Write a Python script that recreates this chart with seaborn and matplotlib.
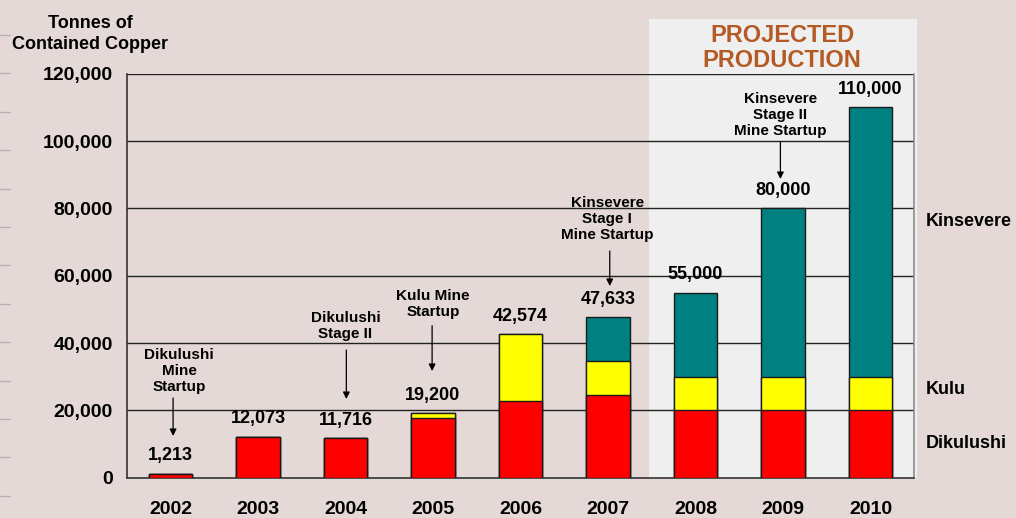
import matplotlib
matplotlib.use("Agg")
import matplotlib.pyplot as plt
import matplotlib.transforms as mtransforms
from matplotlib.patches import Rectangle
from matplotlib.lines import Line2D
import pandas as pd
import seaborn as sns

# ---------------------------------------------------------------------------
# Data (tonnes of contained copper)
# ---------------------------------------------------------------------------
years = ["2002", "2003", "2004", "2005", "2006", "2007", "2008", "2009", "2010"]
dikulushi = [1213, 12073, 11716, 17700, 22800, 24600, 20000, 20000, 20000]
kulu = [0, 0, 0, 1500, 19774, 10000, 10000, 10000, 10000]
kinsevere = [0, 0, 0, 0, 0, 13033, 25000, 50000, 80000]
y_ticks = [0, 20000, 40000, 60000, 80000, 100000, 120000]

df = pd.DataFrame({"year": years, "Dikulushi": dikulushi, "Kulu": kulu, "Kinsevere": kinsevere})
df["lower"] = df["Dikulushi"]
df["middle"] = df["Dikulushi"] + df["Kulu"]
df["total"] = df["middle"] + df["Kinsevere"]

BG = "#e4d9d7"
BOX = "#efefef"
RED = "#ff0000"
YELLOW = "#ffff00"
TEAL = "#008080"
BROWN = "#b35a25"

sns.set_style("white")
plt.rcParams["font.family"] = ["Liberation Sans", "DejaVu Sans"]
plt.rcParams["font.weight"] = "bold"
plt.rcParams["text.color"] = "black"
plt.rcParams["xtick.labelcolor"] = "black"
plt.rcParams["ytick.labelcolor"] = "black"

fig = plt.figure(figsize=(10.16, 5.18), dpi=100, facecolor=BG)

# slide decoration on the left edge
for k in range(13):
    yy = 1 - (35 + 38.4 * k) / 518
    fig.add_artist(Line2D([0, 10 / 1016], [yy, yy], color="#b9b1af", lw=1, transform=fig.transFigure))

# projected production panel
fig.patches.append(
    Rectangle((649 / 1016, 40 / 518), 268 / 1016, 459 / 518, transform=fig.transFigure,
              facecolor=BOX, edgecolor="none", zorder=-1)
)
fig.text(782 / 1016, 1 - 48 / 518, "PROJECTED\nPRODUCTION", ha="center", va="center",
         fontsize=17, color=BROWN, fontweight="bold", linespacing=1.15)

ax = fig.add_axes([0.1247, 0.0778, 0.7752, 0.7799])
ax.set_facecolor("none")

# stacked bars: draw cumulative totals from top layer down
for col, color in [("total", TEAL), ("middle", YELLOW), ("lower", RED)]:
    sns.barplot(data=df, x="year", y=col, color=color, saturation=1, width=0.5,
                edgecolor="#1a1a1a", linewidth=1, ax=ax, zorder=3)

ax.set_ylim(0, 120000)
ax.set_xlim(-0.5, len(years) - 0.5)
ax.set_yticks(y_ticks)
ax.set_yticklabels([f"{v:,}" for v in y_ticks], fontsize=14, fontweight="bold")
ax.set_xticks(range(len(years)))
ax.set_xticklabels(years, fontsize=14, fontweight="bold")
ax.set_xticks([i - 0.5 for i in range(len(years) + 1)], minor=True)
ax.tick_params(axis="x", which="major", length=0, pad=17)
ax.tick_params(axis="x", which="minor", length=5, width=1, color="#333333", direction="out")
ax.tick_params(axis="y", length=6, width=1, color="#333333", pad=4, direction="out")
ax.set_xlabel("")
ax.set_ylabel("")

for v in y_ticks[1:]:
    ax.axhline(v, color="#222222", lw=1, zorder=1)

for s in ["left", "bottom"]:
    ax.spines[s].set_color("#333333")
    ax.spines[s].set_linewidth(1.2)
ax.spines["top"].set_visible(False)
ax.spines["right"].set_color("#8c8c8c")
ax.spines["right"].set_linewidth(1.2)

# totals above bars
for i, t in enumerate(df["total"]):
    ax.annotate(f"{t:,}", xy=(i, t), xytext=(0, 13), textcoords="offset points",
                ha="center", va="center", fontsize=13, fontweight="bold", zorder=5)

# milestone notes with arrows
notes = [
    ("Dikulushi\nMine\nStartup", (0.1, 31780), (0.03, 23670), (0.03, 12390)),
    ("Dikulushi\nStage II", (2.0, 45150), (2.01, 37930), (2.01, 23380)),
    ("Kulu Mine\nStartup", (3.0, 51540), (2.99, 45150), (2.99, 31690)),
    ("Kinsevere\nStage I\nMine Startup", (4.99, 76780), (5.02, 67340), (5.02, 56940)),
    ("Kinsevere\nStage II\nMine Startup", (6.97, 107730), (6.97, 99800), (6.97, 88720)),
]
for txt, pos, start, tip in notes:
    ax.text(pos[0], pos[1], txt, ha="center", va="center", fontsize=11,
            fontweight="bold", linespacing=1.2, zorder=5)
    ax.annotate("", xy=tip, xytext=start,
                arrowprops=dict(arrowstyle="-|>", color="black", lw=0.9,
                                mutation_scale=10, shrinkA=0, shrinkB=0), zorder=5)

# series labels to the right of the plot
trans = mtransforms.blended_transform_factory(ax.transAxes, ax.transData)
for name, yv in [("Kinsevere", 76000), ("Kulu", 26300), ("Dikulushi", 10200)]:
    ax.text(1.015, yv, name, transform=trans, ha="left", va="center",
            fontsize=13, fontweight="bold", clip_on=False)

fig.text(90 / 1016, 1 - 34 / 518, "Tonnes of\nContained Copper", ha="center", va="center",
         fontsize=13, fontweight="bold", linespacing=1.25)

fig.savefig("out.png", dpi=100, facecolor=BG)
